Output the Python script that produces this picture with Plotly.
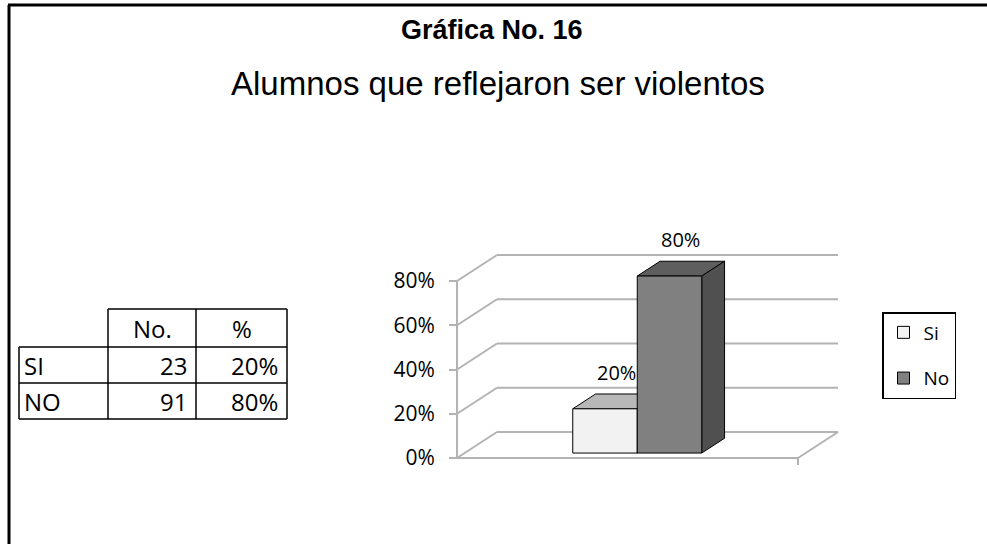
import plotly.graph_objects as go

# datos
categories = ["Si", "No"]
counts = [23, 91]
percents = [0.20, 0.80]
row_labels = ["SI", "NO"]
pct_labels = ["20%", "80%"]
header = ["No.", "%"]
tick_vals = [0, 0.2, 0.4, 0.6, 0.8]
tick_text = ["0%", "20%", "40%", "60%", "80%"]

W, H = 987, 544

# escala del grafico (px)
X0PX = 597.4     # categoria 0 en profundidad 0
XU = 64.5        # px por categoria
Y0PX = 458.0     # 0% frente
YU = 221.25      # px por 100%
DX = 40 / XU     # profundidad total de la pared
DY = 26 / YU
F1, F2 = 0.19, 0.76  # profundidad frente / fondo de las barras
X_LEFT = (457 - X0PX) / XU
X_RIGHT = (798 - X0PX) / XU

front_colors = ["#f2f2f2", "#808080"]
top_colors = ["#b8b8b8", "#5e5e5e"]
side_colors = ["#d0d0d0", "#505050"]
grid_color = "#b3b3b3"
FONT = "Open Sans"


def px(x):
    return x / W


def py(y):
    return 1 - y / H


def poly(pts):
    return "M " + " L ".join(f"{x},{y}" for x, y in pts) + " Z"


fig = go.Figure()
shapes = []

# paredes y rejilla
for v in tick_vals:
    shapes.append(dict(type="line", xref="x", yref="y", layer="below",
                       x0=X_LEFT + DX, y0=v + DY, x1=X_RIGHT + DX, y1=v + DY,
                       line=dict(color=grid_color, width=2)))
    shapes.append(dict(type="line", xref="x", yref="y", layer="below",
                       x0=X_LEFT, y0=v, x1=X_LEFT + DX, y1=v + DY,
                       line=dict(color=grid_color, width=2)))
shapes.append(dict(type="line", xref="x", yref="y", layer="below",
                   x0=X_LEFT, y0=0, x1=X_RIGHT, y1=0,
                   line=dict(color=grid_color, width=2)))
shapes.append(dict(type="line", xref="x", yref="y", layer="below",
                   x0=X_RIGHT, y0=0, x1=X_RIGHT + DX, y1=DY,
                   line=dict(color=grid_color, width=2)))
shapes.append(dict(type="line", xref="x", yref="y", layer="below",
                   x0=X_LEFT, y0=0, x1=X_LEFT, y1=tick_vals[-1],
                   line=dict(color=grid_color, width=2)))
shapes.append(dict(type="line", xref="x", yref="y", layer="below",
                   x0=X_RIGHT, y0=0, x1=X_RIGHT, y1=-7 / YU,
                   line=dict(color=grid_color, width=2)))

# barras 3D: cara frontal como go.Bar, techo y lateral como shapes
bdx = (F2 - F1) * DX
bdy = (F2 - F1) * DY
base = F1 * DY
xs = [i + F1 * DX for i in range(len(categories))]
for i, (cat, v) in enumerate(zip(categories, percents)):
    x = xs[i]
    top = base + v
    shapes.append(dict(type="path", xref="x", yref="y", layer="below",
                       path=poly([(x - 0.5, top), (x + 0.5, top),
                                  (x + 0.5 + bdx, top + bdy), (x - 0.5 + bdx, top + bdy)]),
                       fillcolor=top_colors[i], line=dict(color="black", width=1)))
    shapes.append(dict(type="path", xref="x", yref="y", layer="below",
                       path=poly([(x + 0.5, base), (x + 0.5 + bdx, base + bdy),
                                  (x + 0.5 + bdx, top + bdy), (x + 0.5, top)]),
                       fillcolor=side_colors[i], line=dict(color="black", width=1)))
    fig.add_trace(go.Bar(
        x=[x], y=[v], base=base, width=1.0, name=cat,
        marker=dict(color=front_colors[i], line=dict(color="black", width=1)),
        legendgroup=cat, hoverinfo="skip",
    ))

annotations = []
for i, v in enumerate(percents):
    annotations.append(dict(x=xs[i] + bdx / 2, y=base + v + bdy, xref="x", yref="y",
                            text=pct_labels[i], showarrow=False,
                            xanchor="center", yanchor="bottom", yshift=6,
                            font=dict(family=FONT, size=20, color="black")))

# titulos
annotations.append(dict(x=px(492), y=py(30), xref="paper", yref="paper", showarrow=False,
                        xanchor="center", yanchor="middle",
                        text="<b>Gráfica No. 16</b>",
                        font=dict(family="Liberation Sans", size=27, color="black")))
annotations.append(dict(x=px(498), y=py(83), xref="paper", yref="paper", showarrow=False,
                        xanchor="center", yanchor="middle",
                        text="Alumnos que reflejaron ser violentos",
                        font=dict(family="Liberation Sans", size=33, color="black")))

# marco de la pagina
shapes.append(dict(type="line", xref="paper", yref="paper", x0=px(8), y0=py(5), x1=1, y1=py(5),
                   line=dict(color="black", width=3)))
shapes.append(dict(type="line", xref="paper", yref="paper", x0=px(9), y0=py(5), x1=px(9), y1=0,
                   line=dict(color="black", width=3)))

# tabla
col_x = [19, 108, 196, 287]
row_y = [309, 347, 383, 419]
tline = dict(color="black", width=1.5)
shapes.append(dict(type="line", xref="paper", yref="paper", x0=px(col_x[1]), y0=py(row_y[0]),
                   x1=px(col_x[3]), y1=py(row_y[0]), line=tline))
for yy in row_y[1:]:
    shapes.append(dict(type="line", xref="paper", yref="paper", x0=px(col_x[0]), y0=py(yy),
                       x1=px(col_x[3]), y1=py(yy), line=tline))
shapes.append(dict(type="line", xref="paper", yref="paper", x0=px(col_x[0]), y0=py(row_y[1]),
                   x1=px(col_x[0]), y1=py(row_y[3]), line=tline))
for xx in col_x[1:]:
    shapes.append(dict(type="line", xref="paper", yref="paper", x0=px(xx), y0=py(row_y[0]),
                       x1=px(xx), y1=py(row_y[3]), line=tline))

tfont = dict(family=FONT, size=24, color="black")
for j, h in enumerate(header):
    annotations.append(dict(x=px((col_x[j + 1] + col_x[j + 2]) / 2), y=py((row_y[0] + row_y[1]) / 2),
                            xref="paper", yref="paper", showarrow=False,
                            xanchor="center", yanchor="middle", text=h, font=tfont))
for r in range(len(row_labels)):
    yc = py((row_y[r + 1] + row_y[r + 2]) / 2)
    annotations.append(dict(x=px(col_x[0] + 3), y=yc, xref="paper", yref="paper", showarrow=False,
                            xanchor="left", yanchor="middle", text=row_labels[r], font=tfont))
    annotations.append(dict(x=px(col_x[2] - 7), y=yc, xref="paper", yref="paper", showarrow=False,
                            xanchor="right", yanchor="middle", text=str(counts[r]), font=tfont))
    annotations.append(dict(x=px(col_x[3] - 7), y=yc, xref="paper", yref="paper", showarrow=False,
                            xanchor="right", yanchor="middle",
                            text=f"{round(percents[r] * 100)}%", font=tfont))

fig.update_layout(
    width=W, height=H,
    margin=dict(l=0, r=0, t=0, b=0),
    paper_bgcolor="white", plot_bgcolor="white",
    barmode="overlay",
    shapes=shapes,
    annotations=annotations,
    xaxis=dict(range=[-X0PX / XU, (W - X0PX) / XU], domain=[0, 1], visible=False, fixedrange=True),
    yaxis=dict(
        range=[(Y0PX - H) / YU, Y0PX / YU], domain=[0, 1],
        anchor="free", position=px(457),
        tickvals=tick_vals, ticktext=tick_text,
        ticks="outside", ticklen=8, tickcolor=grid_color, tickwidth=2,
        ticklabelstandoff=10,
        showgrid=False, zeroline=False, showline=False,
        tickfont=dict(family=FONT, size=21, color="black"),
        fixedrange=True,
    ),
    showlegend=True,
    legend=dict(
        x=px(882), y=py(312), xanchor="left", yanchor="top",
        bordercolor="black", borderwidth=1.5, bgcolor="white",
        font=dict(family=FONT, size=19, color="black"),
        tracegroupgap=18, itemwidth=30,
    ),
)

# sin margen del body para que la figura llene la ventana
fig.write_html("out.html", config={"displayModeBar": False},
               post_script="document.body.style.margin='0';")
